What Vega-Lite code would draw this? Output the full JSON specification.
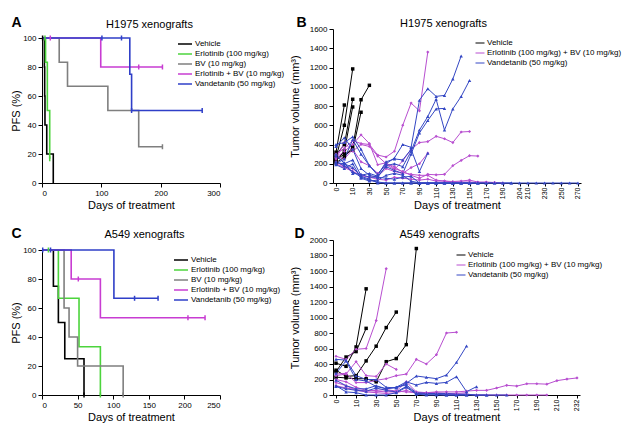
{
"$schema":"https://vega.github.io/schema/vega-lite/v6.json",
"padding":{"left":10,"top":15,"right":0,"bottom":0},
"config":{"font":"Liberation Sans","view":{"stroke":null},
 "axis":{"domainColor":"black","tickColor":"black","labelColor":"black","titleColor":"black","labelFontSize":8,"titleFontSize":11,"titleFontWeight":"normal","tickSize":4,"grid":false,"labelPadding":2,"titlePadding":2},
 "legend":{"labelFontSize":8,"labelColor":"black"}},
"datasets":{
"kmA":[
{"g":"Vehicle","d":0,"p":100},{"g":"Vehicle","d":4,"p":80},{"g":"Vehicle","d":4.5,"p":60},{"g":"Vehicle","d":5,"p":40},{"g":"Vehicle","d":8,"p":20},{"g":"Vehicle","d":19,"p":0},
{"g":"Erlotinib (100 mg/kg)","d":0,"p":100},{"g":"Erlotinib (100 mg/kg)","d":6,"p":83.3},{"g":"Erlotinib (100 mg/kg)","d":9,"p":50},{"g":"Erlotinib (100 mg/kg)","d":13,"p":16.7},
{"g":"BV (10 mg/kg)","d":0,"p":100},{"g":"BV (10 mg/kg)","d":29,"p":83.3},{"g":"BV (10 mg/kg)","d":43,"p":66.7},{"g":"BV (10 mg/kg)","d":111,"p":50},{"g":"BV (10 mg/kg)","d":163,"p":25},{"g":"BV (10 mg/kg)","d":203,"p":25},
{"g":"Erlotinib + BV (10 mg/kg)","d":0,"p":100},{"g":"Erlotinib + BV (10 mg/kg)","d":99,"p":80},{"g":"Erlotinib + BV (10 mg/kg)","d":203,"p":80},
{"g":"Vandetanib (50 mg/kg)","d":0,"p":100},{"g":"Vandetanib (50 mg/kg)","d":148,"p":75},{"g":"Vandetanib (50 mg/kg)","d":151,"p":50},{"g":"Vandetanib (50 mg/kg)","d":270,"p":50}],
"cenA":[
{"g":"Vehicle","d":1,"p":100},{"g":"Erlotinib (100 mg/kg)","d":5,"p":100},{"g":"Erlotinib (100 mg/kg)","d":13,"p":16.7},{"g":"BV (10 mg/kg)","d":203,"p":25},
{"g":"Erlotinib + BV (10 mg/kg)","d":14,"p":100},{"g":"Erlotinib + BV (10 mg/kg)","d":163,"p":80},{"g":"Erlotinib + BV (10 mg/kg)","d":203,"p":80},
{"g":"Vandetanib (50 mg/kg)","d":101,"p":100},{"g":"Vandetanib (50 mg/kg)","d":134,"p":100},{"g":"Vandetanib (50 mg/kg)","d":151,"p":50},{"g":"Vandetanib (50 mg/kg)","d":270,"p":50}],
"kmC":[
{"g":"Vehicle","d":0,"p":100},{"g":"Vehicle","d":16,"p":75},{"g":"Vehicle","d":23,"p":50},{"g":"Vehicle","d":32,"p":25},{"g":"Vehicle","d":59,"p":0},
{"g":"Erlotinib (100 mg/kg)","d":0,"p":100},{"g":"Erlotinib (100 mg/kg)","d":23,"p":66.7},{"g":"Erlotinib (100 mg/kg)","d":52,"p":33.3},{"g":"Erlotinib (100 mg/kg)","d":82,"p":0},
{"g":"BV (10 mg/kg)","d":0,"p":100},{"g":"BV (10 mg/kg)","d":31,"p":60},{"g":"BV (10 mg/kg)","d":38,"p":40},{"g":"BV (10 mg/kg)","d":50,"p":20},{"g":"BV (10 mg/kg)","d":114,"p":0},
{"g":"Erlotinib + BV (10 mg/kg)","d":0,"p":100},{"g":"Erlotinib + BV (10 mg/kg)","d":41,"p":80},{"g":"Erlotinib + BV (10 mg/kg)","d":82,"p":53.3},{"g":"Erlotinib + BV (10 mg/kg)","d":229,"p":53.3},
{"g":"Vandetanib (50 mg/kg)","d":0,"p":100},{"g":"Vandetanib (50 mg/kg)","d":101,"p":66.7},{"g":"Vandetanib (50 mg/kg)","d":163,"p":66.7}],
"cenC":[
{"g":"Vehicle","d":59,"p":0},{"g":"Erlotinib (100 mg/kg)","d":9,"p":100},{"g":"Erlotinib (100 mg/kg)","d":82,"p":0},{"g":"BV (10 mg/kg)","d":114,"p":0},
{"g":"Erlotinib + BV (10 mg/kg)","d":51,"p":80},{"g":"Erlotinib + BV (10 mg/kg)","d":205,"p":53.3},{"g":"Erlotinib + BV (10 mg/kg)","d":229,"p":53.3},
{"g":"Vandetanib (50 mg/kg)","d":1,"p":100},{"g":"Vandetanib (50 mg/kg)","d":12,"p":100},{"g":"Vandetanib (50 mg/kg)","d":130,"p":66.7},{"g":"Vandetanib (50 mg/kg)","d":163,"p":66.7}],
"volB":[
{"g":"V","m":"v1","d":0,"v":320},{"g":"V","m":"v1","d":5,"v":810},
{"g":"V","m":"v2","d":0,"v":260},{"g":"V","m":"v2","d":5,"v":600},{"g":"V","m":"v2","d":10,"v":1185},
{"g":"V","m":"v3","d":0,"v":290},{"g":"V","m":"v3","d":5,"v":400},{"g":"V","m":"v3","d":10,"v":870},
{"g":"V","m":"v4","d":0,"v":230},{"g":"V","m":"v4","d":5,"v":330},{"g":"V","m":"v4","d":10,"v":790},
{"g":"V","m":"v5","d":0,"v":210},{"g":"V","m":"v5","d":5,"v":270},{"g":"V","m":"v5","d":10,"v":370},{"g":"V","m":"v5","d":20,"v":865},{"g":"V","m":"v5","d":30,"v":1015},
{"g":"V","m":"v6","d":0,"v":240},{"g":"V","m":"v6","d":5,"v":300},{"g":"V","m":"v6","d":10,"v":340},{"g":"V","m":"v6","d":20,"v":735},
{"g":"E","m":"e1","d":0,"v":300},{"g":"E","m":"e1","d":5,"v":360},{"g":"E","m":"e1","d":10,"v":440},{"g":"E","m":"e1","d":20,"v":410},{"g":"E","m":"e1","d":30,"v":400},{"g":"E","m":"e1","d":40,"v":290},{"g":"E","m":"e1","d":50,"v":270},{"g":"E","m":"e1","d":60,"v":330},{"g":"E","m":"e1","d":70,"v":600},{"g":"E","m":"e1","d":80,"v":830},{"g":"E","m":"e1","d":90,"v":750},{"g":"E","m":"e1","d":100,"v":1360},
{"g":"E","m":"e2","d":0,"v":260},{"g":"E","m":"e2","d":5,"v":330},{"g":"E","m":"e2","d":10,"v":400},{"g":"E","m":"e2","d":20,"v":500},{"g":"E","m":"e2","d":30,"v":410},{"g":"E","m":"e2","d":40,"v":190},{"g":"E","m":"e2","d":50,"v":210},{"g":"E","m":"e2","d":60,"v":150},{"g":"E","m":"e2","d":70,"v":120},{"g":"E","m":"e2","d":80,"v":80},{"g":"E","m":"e2","d":90,"v":50},{"g":"E","m":"e2","d":100,"v":90},{"g":"E","m":"e2","d":110,"v":85},{"g":"E","m":"e2","d":120,"v":90},{"g":"E","m":"e2","d":130,"v":180},{"g":"E","m":"e2","d":140,"v":235},{"g":"E","m":"e2","d":150,"v":284},{"g":"E","m":"e2","d":160,"v":280},
{"g":"E","m":"e3","d":0,"v":280},{"g":"E","m":"e3","d":5,"v":250},{"g":"E","m":"e3","d":10,"v":350},{"g":"E","m":"e3","d":20,"v":220},{"g":"E","m":"e3","d":30,"v":180},{"g":"E","m":"e3","d":40,"v":100},{"g":"E","m":"e3","d":50,"v":190},{"g":"E","m":"e3","d":60,"v":140},{"g":"E","m":"e3","d":70,"v":230},{"g":"E","m":"e3","d":80,"v":350},{"g":"E","m":"e3","d":90,"v":420},{"g":"E","m":"e3","d":100,"v":430},{"g":"E","m":"e3","d":110,"v":485},{"g":"E","m":"e3","d":120,"v":460},{"g":"E","m":"e3","d":130,"v":420},{"g":"E","m":"e3","d":140,"v":530},{"g":"E","m":"e3","d":150,"v":535},
{"g":"E","m":"e4","d":0,"v":220},{"g":"E","m":"e4","d":5,"v":170},{"g":"E","m":"e4","d":10,"v":150},{"g":"E","m":"e4","d":20,"v":80},{"g":"E","m":"e4","d":30,"v":60},{"g":"E","m":"e4","d":40,"v":70},{"g":"E","m":"e4","d":50,"v":150},{"g":"E","m":"e4","d":60,"v":120},{"g":"E","m":"e4","d":70,"v":100},{"g":"E","m":"e4","d":80,"v":160},{"g":"E","m":"e4","d":90,"v":200},{"g":"E","m":"e4","d":100,"v":310},
{"g":"E","m":"e5","d":0,"v":200},{"g":"E","m":"e5","d":5,"v":160},{"g":"E","m":"e5","d":10,"v":120},{"g":"E","m":"e5","d":20,"v":80},{"g":"E","m":"e5","d":30,"v":60},{"g":"E","m":"e5","d":40,"v":40},{"g":"E","m":"e5","d":50,"v":30},{"g":"E","m":"e5","d":60,"v":60},{"g":"E","m":"e5","d":70,"v":50},{"g":"E","m":"e5","d":80,"v":40},{"g":"E","m":"e5","d":90,"v":30},{"g":"E","m":"e5","d":100,"v":40},{"g":"E","m":"e5","d":110,"v":20},{"g":"E","m":"e5","d":120,"v":20},{"g":"E","m":"e5","d":130,"v":15},{"g":"E","m":"e5","d":140,"v":20},{"g":"E","m":"e5","d":150,"v":30},{"g":"E","m":"e5","d":160,"v":10},{"g":"E","m":"e5","d":170,"v":10},{"g":"E","m":"e5","d":180,"v":5},{"g":"E","m":"e5","d":190,"v":0},
{"g":"E","m":"e6","d":0,"v":250},{"g":"E","m":"e6","d":5,"v":420},{"g":"E","m":"e6","d":10,"v":330},{"g":"E","m":"e6","d":20,"v":400},{"g":"E","m":"e6","d":30,"v":380},{"g":"E","m":"e6","d":40,"v":280},{"g":"E","m":"e6","d":50,"v":200},{"g":"E","m":"e6","d":60,"v":170},{"g":"E","m":"e6","d":70,"v":110},{"g":"E","m":"e6","d":80,"v":90},{"g":"E","m":"e6","d":90,"v":80},{"g":"E","m":"e6","d":100,"v":80},{"g":"E","m":"e6","d":110,"v":30},{"g":"E","m":"e6","d":120,"v":20},{"g":"E","m":"e6","d":130,"v":10},{"g":"E","m":"e6","d":140,"v":10},{"g":"E","m":"e6","d":150,"v":10},{"g":"E","m":"e6","d":160,"v":5},{"g":"E","m":"e6","d":170,"v":5},{"g":"E","m":"e6","d":180,"v":5},
{"g":"Z","m":"z1","d":0,"v":200},{"g":"Z","m":"z1","d":5,"v":250},{"g":"Z","m":"z1","d":10,"v":450},{"g":"Z","m":"z1","d":20,"v":300},{"g":"Z","m":"z1","d":30,"v":180},{"g":"Z","m":"z1","d":40,"v":90},{"g":"Z","m":"z1","d":50,"v":200},{"g":"Z","m":"z1","d":60,"v":260},{"g":"Z","m":"z1","d":70,"v":400},{"g":"Z","m":"z1","d":80,"v":370},{"g":"Z","m":"z1","d":90,"v":860},{"g":"Z","m":"z1","d":100,"v":980},{"g":"Z","m":"z1","d":110,"v":900},{"g":"Z","m":"z1","d":120,"v":910},{"g":"Z","m":"z1","d":130,"v":1080},{"g":"Z","m":"z1","d":140,"v":1320},
{"g":"Z","m":"z2","d":0,"v":380},{"g":"Z","m":"z2","d":5,"v":470},{"g":"Z","m":"z2","d":10,"v":350},{"g":"Z","m":"z2","d":20,"v":150},{"g":"Z","m":"z2","d":30,"v":80},{"g":"Z","m":"z2","d":40,"v":60},{"g":"Z","m":"z2","d":50,"v":180},{"g":"Z","m":"z2","d":60,"v":200},{"g":"Z","m":"z2","d":70,"v":170},{"g":"Z","m":"z2","d":80,"v":330},{"g":"Z","m":"z2","d":90,"v":550},{"g":"Z","m":"z2","d":100,"v":690},{"g":"Z","m":"z2","d":110,"v":870},{"g":"Z","m":"z2","d":120,"v":550},{"g":"Z","m":"z2","d":130,"v":770},{"g":"Z","m":"z2","d":140,"v":900},{"g":"Z","m":"z2","d":150,"v":1066},
{"g":"Z","m":"z3","d":0,"v":210},{"g":"Z","m":"z3","d":5,"v":200},{"g":"Z","m":"z3","d":10,"v":240},{"g":"Z","m":"z3","d":20,"v":80},{"g":"Z","m":"z3","d":30,"v":100},{"g":"Z","m":"z3","d":40,"v":70},{"g":"Z","m":"z3","d":50,"v":170},{"g":"Z","m":"z3","d":60,"v":130},{"g":"Z","m":"z3","d":70,"v":100},{"g":"Z","m":"z3","d":80,"v":300},{"g":"Z","m":"z3","d":90,"v":520},{"g":"Z","m":"z3","d":100,"v":650},{"g":"Z","m":"z3","d":110,"v":770},{"g":"Z","m":"z3","d":120,"v":775},
{"g":"Z","m":"z4","d":0,"v":400},{"g":"Z","m":"z4","d":5,"v":420},{"g":"Z","m":"z4","d":10,"v":480},{"g":"Z","m":"z4","d":20,"v":350},{"g":"Z","m":"z4","d":30,"v":180},{"g":"Z","m":"z4","d":40,"v":80},{"g":"Z","m":"z4","d":50,"v":220},{"g":"Z","m":"z4","d":60,"v":250},{"g":"Z","m":"z4","d":70,"v":240},{"g":"Z","m":"z4","d":80,"v":350},{"g":"Z","m":"z4","d":90,"v":120},{"g":"Z","m":"z4","d":100,"v":310},
{"g":"Z","m":"z5","d":0,"v":220},{"g":"Z","m":"z5","d":5,"v":180},{"g":"Z","m":"z5","d":10,"v":120},{"g":"Z","m":"z5","d":20,"v":60},{"g":"Z","m":"z5","d":30,"v":30},{"g":"Z","m":"z5","d":40,"v":10},{"g":"Z","m":"z5","d":50,"v":0},{"g":"Z","m":"z5","d":60,"v":0},{"g":"Z","m":"z5","d":70,"v":0},{"g":"Z","m":"z5","d":80,"v":0},{"g":"Z","m":"z5","d":90,"v":0},{"g":"Z","m":"z5","d":100,"v":0},{"g":"Z","m":"z5","d":110,"v":0},{"g":"Z","m":"z5","d":120,"v":0},{"g":"Z","m":"z5","d":130,"v":0},{"g":"Z","m":"z5","d":140,"v":0},{"g":"Z","m":"z5","d":150,"v":0},{"g":"Z","m":"z5","d":160,"v":0},{"g":"Z","m":"z5","d":170,"v":0},{"g":"Z","m":"z5","d":180,"v":0},{"g":"Z","m":"z5","d":190,"v":0},{"g":"Z","m":"z5","d":200,"v":0},{"g":"Z","m":"z5","d":204,"v":0},{"g":"Z","m":"z5","d":210,"v":0},{"g":"Z","m":"z5","d":220,"v":0},{"g":"Z","m":"z5","d":230,"v":0},{"g":"Z","m":"z5","d":240,"v":0},{"g":"Z","m":"z5","d":250,"v":0},{"g":"Z","m":"z5","d":260,"v":0},{"g":"Z","m":"z5","d":270,"v":0},
{"g":"Z","m":"z6","d":0,"v":280},{"g":"Z","m":"z6","d":5,"v":210},{"g":"Z","m":"z6","d":10,"v":100},{"g":"Z","m":"z6","d":20,"v":90},{"g":"Z","m":"z6","d":30,"v":60},{"g":"Z","m":"z6","d":40,"v":60},{"g":"Z","m":"z6","d":50,"v":50},{"g":"Z","m":"z6","d":60,"v":40},{"g":"Z","m":"z6","d":70,"v":60},{"g":"Z","m":"z6","d":80,"v":70},{"g":"Z","m":"z6","d":90,"v":0},{"g":"Z","m":"z6","d":100,"v":0},{"g":"Z","m":"z6","d":110,"v":0},{"g":"Z","m":"z6","d":120,"v":0},{"g":"Z","m":"z6","d":130,"v":0},{"g":"Z","m":"z6","d":140,"v":0},{"g":"Z","m":"z6","d":150,"v":0},{"g":"Z","m":"z6","d":160,"v":0},
{"g":"Z","m":"z7","d":0,"v":300},{"g":"Z","m":"z7","d":5,"v":200},{"g":"Z","m":"z7","d":10,"v":160},{"g":"Z","m":"z7","d":20,"v":70},{"g":"Z","m":"z7","d":30,"v":40},{"g":"Z","m":"z7","d":40,"v":0},{"g":"Z","m":"z7","d":50,"v":0},{"g":"Z","m":"z7","d":60,"v":0},{"g":"Z","m":"z7","d":70,"v":0},{"g":"Z","m":"z7","d":80,"v":0},{"g":"Z","m":"z7","d":90,"v":0},{"g":"Z","m":"z7","d":100,"v":0},{"g":"Z","m":"z7","d":110,"v":0},{"g":"Z","m":"z7","d":120,"v":0},{"g":"Z","m":"z7","d":130,"v":0},{"g":"Z","m":"z7","d":140,"v":0},{"g":"Z","m":"z7","d":150,"v":0},{"g":"Z","m":"z7","d":160,"v":0},{"g":"Z","m":"z7","d":170,"v":0},{"g":"Z","m":"z7","d":180,"v":0},{"g":"Z","m":"z7","d":190,"v":0},{"g":"Z","m":"z7","d":200,"v":0},
{"g":"Z","m":"z8","d":0,"v":190},{"g":"Z","m":"z8","d":5,"v":150},{"g":"Z","m":"z8","d":10,"v":200},{"g":"Z","m":"z8","d":20,"v":50},{"g":"Z","m":"z8","d":30,"v":20},{"g":"Z","m":"z8","d":40,"v":30},{"g":"Z","m":"z8","d":50,"v":80},{"g":"Z","m":"z8","d":60,"v":100},{"g":"Z","m":"z8","d":70,"v":80},{"g":"Z","m":"z8","d":80,"v":20},{"g":"Z","m":"z8","d":90,"v":0},{"g":"Z","m":"z8","d":100,"v":0},{"g":"Z","m":"z8","d":110,"v":0},{"g":"Z","m":"z8","d":120,"v":0},{"g":"Z","m":"z8","d":130,"v":0},{"g":"Z","m":"z8","d":140,"v":0},{"g":"Z","m":"z8","d":150,"v":0}],
"volD":[
{"g":"V","m":"v1","d":0,"v":410},{"g":"V","m":"v1","d":5,"v":370},{"g":"V","m":"v1","d":10,"v":620},{"g":"V","m":"v1","d":20,"v":1370},
{"g":"V","m":"v2","d":0,"v":300},{"g":"V","m":"v2","d":5,"v":490},{"g":"V","m":"v2","d":10,"v":560},{"g":"V","m":"v2","d":20,"v":860},
{"g":"V","m":"v3","d":0,"v":320},{"g":"V","m":"v3","d":5,"v":240},{"g":"V","m":"v3","d":10,"v":250},{"g":"V","m":"v3","d":20,"v":440},{"g":"V","m":"v3","d":30,"v":630},{"g":"V","m":"v3","d":40,"v":870},{"g":"V","m":"v3","d":50,"v":1070},
{"g":"V","m":"v4","d":0,"v":230},{"g":"V","m":"v4","d":5,"v":220},{"g":"V","m":"v4","d":10,"v":210},{"g":"V","m":"v4","d":20,"v":210},{"g":"V","m":"v4","d":30,"v":170},{"g":"V","m":"v4","d":40,"v":430},{"g":"V","m":"v4","d":50,"v":470},{"g":"V","m":"v4","d":60,"v":650},{"g":"V","m":"v4","d":70,"v":1890},
{"g":"E","m":"e1","d":0,"v":500},{"g":"E","m":"e1","d":5,"v":460},{"g":"E","m":"e1","d":10,"v":590},{"g":"E","m":"e1","d":20,"v":600},{"g":"E","m":"e1","d":30,"v":960},{"g":"E","m":"e1","d":40,"v":1630},
{"g":"E","m":"e2","d":0,"v":250},{"g":"E","m":"e2","d":5,"v":270},{"g":"E","m":"e2","d":10,"v":430},{"g":"E","m":"e2","d":20,"v":250},{"g":"E","m":"e2","d":30,"v":240},{"g":"E","m":"e2","d":40,"v":400},{"g":"E","m":"e2","d":50,"v":330},
{"g":"E","m":"e3","d":0,"v":270},{"g":"E","m":"e3","d":5,"v":280},{"g":"E","m":"e3","d":10,"v":160},{"g":"E","m":"e3","d":20,"v":160},{"g":"E","m":"e3","d":30,"v":190},{"g":"E","m":"e3","d":40,"v":210},{"g":"E","m":"e3","d":50,"v":250},{"g":"E","m":"e3","d":60,"v":270},{"g":"E","m":"e3","d":70,"v":460},{"g":"E","m":"e3","d":80,"v":400},{"g":"E","m":"e3","d":90,"v":520},{"g":"E","m":"e3","d":100,"v":800},{"g":"E","m":"e3","d":110,"v":810},
{"g":"E","m":"e4","d":0,"v":200},{"g":"E","m":"e4","d":5,"v":170},{"g":"E","m":"e4","d":10,"v":100},{"g":"E","m":"e4","d":20,"v":60},{"g":"E","m":"e4","d":30,"v":50},{"g":"E","m":"e4","d":40,"v":40},{"g":"E","m":"e4","d":50,"v":50},{"g":"E","m":"e4","d":60,"v":40},{"g":"E","m":"e4","d":70,"v":30},{"g":"E","m":"e4","d":80,"v":30},{"g":"E","m":"e4","d":90,"v":40},{"g":"E","m":"e4","d":100,"v":40},{"g":"E","m":"e4","d":110,"v":40},{"g":"E","m":"e4","d":120,"v":50},{"g":"E","m":"e4","d":130,"v":60},{"g":"E","m":"e4","d":140,"v":60},{"g":"E","m":"e4","d":150,"v":90},{"g":"E","m":"e4","d":160,"v":125},{"g":"E","m":"e4","d":170,"v":115},{"g":"E","m":"e4","d":180,"v":145},{"g":"E","m":"e4","d":190,"v":145},{"g":"E","m":"e4","d":200,"v":140},{"g":"E","m":"e4","d":210,"v":185},{"g":"E","m":"e4","d":220,"v":205},{"g":"E","m":"e4","d":232,"v":220},
{"g":"E","m":"e5","d":0,"v":160},{"g":"E","m":"e5","d":5,"v":120},{"g":"E","m":"e5","d":10,"v":60},{"g":"E","m":"e5","d":20,"v":40},{"g":"E","m":"e5","d":30,"v":30},{"g":"E","m":"e5","d":40,"v":20},{"g":"E","m":"e5","d":50,"v":30},{"g":"E","m":"e5","d":60,"v":60},{"g":"E","m":"e5","d":70,"v":20},{"g":"E","m":"e5","d":80,"v":20},{"g":"E","m":"e5","d":90,"v":20},{"g":"E","m":"e5","d":100,"v":10},{"g":"E","m":"e5","d":110,"v":10},{"g":"E","m":"e5","d":120,"v":10},{"g":"E","m":"e5","d":130,"v":0},{"g":"E","m":"e5","d":140,"v":0},{"g":"E","m":"e5","d":150,"v":0},{"g":"E","m":"e5","d":160,"v":0},{"g":"E","m":"e5","d":170,"v":0},{"g":"E","m":"e5","d":180,"v":0},{"g":"E","m":"e5","d":190,"v":0},{"g":"E","m":"e5","d":200,"v":0},
{"g":"E","m":"e6","d":0,"v":120},{"g":"E","m":"e6","d":5,"v":90},{"g":"E","m":"e6","d":10,"v":70},{"g":"E","m":"e6","d":20,"v":50},{"g":"E","m":"e6","d":30,"v":60},{"g":"E","m":"e6","d":40,"v":70},{"g":"E","m":"e6","d":50,"v":50},{"g":"E","m":"e6","d":60,"v":170},{"g":"E","m":"e6","d":70,"v":40},{"g":"E","m":"e6","d":80,"v":30},{"g":"E","m":"e6","d":90,"v":30},{"g":"E","m":"e6","d":100,"v":20},{"g":"E","m":"e6","d":110,"v":20},{"g":"E","m":"e6","d":120,"v":30},
{"g":"Z","m":"z1","d":0,"v":460},{"g":"Z","m":"z1","d":5,"v":450},{"g":"Z","m":"z1","d":10,"v":250},{"g":"Z","m":"z1","d":20,"v":200},{"g":"Z","m":"z1","d":30,"v":200},{"g":"Z","m":"z1","d":40,"v":100},{"g":"Z","m":"z1","d":50,"v":90},{"g":"Z","m":"z1","d":60,"v":150},{"g":"Z","m":"z1","d":70,"v":245},{"g":"Z","m":"z1","d":80,"v":228},{"g":"Z","m":"z1","d":90,"v":211},{"g":"Z","m":"z1","d":100,"v":258},{"g":"Z","m":"z1","d":110,"v":421},{"g":"Z","m":"z1","d":120,"v":632},
{"g":"Z","m":"z2","d":0,"v":280},{"g":"Z","m":"z2","d":5,"v":440},{"g":"Z","m":"z2","d":10,"v":200},{"g":"Z","m":"z2","d":20,"v":180},{"g":"Z","m":"z2","d":30,"v":110},{"g":"Z","m":"z2","d":40,"v":80},{"g":"Z","m":"z2","d":50,"v":100},{"g":"Z","m":"z2","d":60,"v":170},{"g":"Z","m":"z2","d":70,"v":129},{"g":"Z","m":"z2","d":80,"v":163},{"g":"Z","m":"z2","d":90,"v":150},{"g":"Z","m":"z2","d":100,"v":163},{"g":"Z","m":"z2","d":110,"v":237},{"g":"Z","m":"z2","d":120,"v":43},{"g":"Z","m":"z2","d":130,"v":108},
{"g":"Z","m":"z3","d":0,"v":190},{"g":"Z","m":"z3","d":5,"v":120},{"g":"Z","m":"z3","d":10,"v":80},{"g":"Z","m":"z3","d":20,"v":80},{"g":"Z","m":"z3","d":30,"v":120},{"g":"Z","m":"z3","d":40,"v":80},{"g":"Z","m":"z3","d":50,"v":100},{"g":"Z","m":"z3","d":60,"v":130},{"g":"Z","m":"z3","d":70,"v":30},{"g":"Z","m":"z3","d":80,"v":20},{"g":"Z","m":"z3","d":90,"v":20},{"g":"Z","m":"z3","d":100,"v":20},{"g":"Z","m":"z3","d":110,"v":10},{"g":"Z","m":"z3","d":120,"v":10},{"g":"Z","m":"z3","d":130,"v":0},{"g":"Z","m":"z3","d":140,"v":0},
{"g":"Z","m":"z4","d":0,"v":120},{"g":"Z","m":"z4","d":5,"v":40},{"g":"Z","m":"z4","d":10,"v":30},{"g":"Z","m":"z4","d":20,"v":0},{"g":"Z","m":"z4","d":30,"v":0},{"g":"Z","m":"z4","d":40,"v":0},{"g":"Z","m":"z4","d":50,"v":30},{"g":"Z","m":"z4","d":60,"v":100},{"g":"Z","m":"z4","d":70,"v":10},{"g":"Z","m":"z4","d":80,"v":0},{"g":"Z","m":"z4","d":90,"v":0},{"g":"Z","m":"z4","d":100,"v":0},{"g":"Z","m":"z4","d":110,"v":0},{"g":"Z","m":"z4","d":120,"v":0},{"g":"Z","m":"z4","d":130,"v":0},{"g":"Z","m":"z4","d":140,"v":0},{"g":"Z","m":"z4","d":150,"v":0},{"g":"Z","m":"z4","d":160,"v":0},
{"g":"Z","m":"z5","d":0,"v":110},{"g":"Z","m":"z5","d":5,"v":80},{"g":"Z","m":"z5","d":10,"v":60},{"g":"Z","m":"z5","d":20,"v":50},{"g":"Z","m":"z5","d":30,"v":90},{"g":"Z","m":"z5","d":40,"v":60},{"g":"Z","m":"z5","d":50,"v":40},{"g":"Z","m":"z5","d":60,"v":110},{"g":"Z","m":"z5","d":70,"v":20},{"g":"Z","m":"z5","d":80,"v":10},{"g":"Z","m":"z5","d":90,"v":10},{"g":"Z","m":"z5","d":100,"v":0},{"g":"Z","m":"z5","d":110,"v":0},{"g":"Z","m":"z5","d":120,"v":0}]
},
"columns":2,
"align":"none",
"spacing":{"row":15,"column":4},
"resolve":{"scale":{"color":"independent","shape":"independent","x":"independent","y":"independent"},"legend":{"color":"independent"}},
"concat":[
{"width":178,"height":154,
 "layer":[
  {"data":{"name":"kmA"},"mark":{"type":"line","interpolate":"step-after","strokeWidth":1.6},
   "encoding":{
    "x":{"field":"d","type":"quantitative","scale":{"domain":[0,300],"nice":false},"axis":{"values":[0,100,200,300],"title":"Days of treatment"}},
    "y":{"field":"p","type":"quantitative","scale":{"domain":[0,100],"range":[154,9]},"axis":{"values":[0,20,40,60,80,100],"title":"PFS (%)","titlePadding":1}},
    "color":{"field":"g","type":"nominal","scale":{"domain":["Vehicle","Erlotinib (100 mg/kg)","BV (10 mg/kg)","Erlotinib + BV (10 mg/kg)","Vandetanib (50 mg/kg)"],"range":["#000000","#4cd43c","#7f7f7f","#c83cd2","#2f3fc8"]},
     "legend":{"title":null,"orient":"none","legendX":135,"legendY":10,"symbolType":"stroke","symbolSize":196,"symbolStrokeWidth":1.6,"rowPadding":0,"clipHeight":10,"labelOffset":2}}}},
  {"data":{"name":"cenA"},"mark":{"type":"point","shape":"M0,-1L0,1","size":25,"strokeWidth":1.5,"filled":false,"opacity":1},
   "encoding":{
    "x":{"field":"d","type":"quantitative","axis":{"orient":"top","title":"H1975 xenografts","domain":false,"ticks":false,"labels":false,"titleX":107,"titleY":-2,"titleAlign":"center","titleBaseline":"alphabetic"}},
    "y":{"field":"p","type":"quantitative","axis":{"orient":"right","title":"A","domain":false,"ticks":false,"labels":false,"titleAngle":0,"titleX":-209,"titleY":-3,"titleAlign":"left","titleBaseline":"alphabetic","titleFontWeight":"bold","titleFontSize":14}},
    "color":{"field":"g","type":"nominal"}}}],
 "resolve":{"axis":{"x":"independent","y":"independent"}}},
{"width":248,"height":154,
 "data":{"name":"volB"},
 "encoding":{
  "x":{"field":"d","type":"ordinal","scale":{"type":"point","domain":[0,5,10,20,30,40,50,60,70,80,90,100,110,120,130,140,150,160,170,180,190,200,204,210,220,230,240,250,260,270],"padding":0.36},"axis":null},
  "y":{"field":"v","type":"quantitative","scale":{"domain":[0,1600]},"axis":null},
  "color":{"field":"g","type":"nominal","scale":{"domain":["V","E","Z"],"range":["#000000","#b84fd0","#3447c4"]}}},
 "layer":[
  {"mark":{"type":"line","strokeWidth":1},
   "encoding":{
    "x":{"field":"d","type":"ordinal","axis":{"values":[0,10,30,50,70,90,110,130,150,170,190,204,210,230,250,270],"labelAngle":-90,"labelFontSize":7,"tickSize":3,"labelPadding":1,"title":"Days of treatment","titlePadding":1}},
    "y":{"field":"v","type":"quantitative","axis":{"values":[0,200,400,600,800,1000,1200,1400,1600],"format":"d","title":"Tumor volume (mm³)","titlePadding":9}},
    "detail":{"field":"m"},
    "color":{"field":"g","type":"nominal",
     "legend":{"title":null,"orient":"none","legendX":142,"legendY":9,"symbolType":"stroke","symbolSize":81,"symbolStrokeWidth":1,"rowPadding":0,"clipHeight":10,"labelOffset":2,
      "labelExpr":"datum.value=='V'?'Vehicle':datum.value=='E'?'Erlotinib (100 mg/kg) + BV (10 mg/kg)':'Vandetanib (50 mg/kg)'"}}}},
  {"transform":[{"filter":"datum.g=='V'"}],"mark":{"type":"point","filled":true,"size":12,"opacity":1,"shape":"square"},
   "encoding":{
    "x":{"field":"d","type":"ordinal","axis":{"orient":"top","title":"H1975 xenografts","domain":false,"ticks":false,"labels":false,"titleX":110,"titleY":-3,"titleAlign":"center","titleBaseline":"alphabetic"}},
    "y":{"field":"v","type":"quantitative","axis":{"orient":"right","title":"B","domain":false,"ticks":false,"labels":false,"titleAngle":0,"titleX":-285,"titleY":-3,"titleAlign":"left","titleBaseline":"alphabetic","titleFontWeight":"bold","titleFontSize":14}}}},
  {"transform":[{"filter":"datum.g=='E'"}],"mark":{"type":"point","filled":true,"size":10,"opacity":1,"shape":"diamond"}},
  {"transform":[{"filter":"datum.g=='Z'"}],"mark":{"type":"point","filled":true,"size":12,"opacity":1,"shape":"triangle-up"}}],
 "resolve":{"axis":{"x":"independent","y":"independent"}}},
{"width":178,"height":145,
 "layer":[
  {"data":{"name":"kmC"},"mark":{"type":"line","interpolate":"step-after","strokeWidth":1.6},
   "encoding":{
    "x":{"field":"d","type":"quantitative","scale":{"domain":[0,250],"nice":false},"axis":{"values":[0,50,100,150,200,250],"title":"Days of treatment"}},
    "y":{"field":"p","type":"quantitative","scale":{"domain":[0,100]},"axis":{"values":[0,20,40,60,80,100],"title":"PFS (%)","titlePadding":1}},
    "color":{"field":"g","type":"nominal","scale":{"domain":["Vehicle","Erlotinib (100 mg/kg)","BV (10 mg/kg)","Erlotinib + BV (10 mg/kg)","Vandetanib (50 mg/kg)"],"range":["#000000","#4cd43c","#7f7f7f","#c83cd2","#2f3fc8"]},
     "legend":{"title":null,"orient":"none","legendX":131,"legendY":5,"symbolType":"stroke","symbolSize":196,"symbolStrokeWidth":1.6,"rowPadding":0,"clipHeight":10,"labelOffset":2}}}},
  {"data":{"name":"cenC"},"mark":{"type":"point","shape":"M0,-1L0,1","size":25,"strokeWidth":1.5,"filled":false,"opacity":1},
   "encoding":{
    "x":{"field":"d","type":"quantitative","axis":{"orient":"top","title":"A549 xenografts","domain":false,"ticks":false,"labels":false,"titleX":102,"titleY":-13,"titleAlign":"center","titleBaseline":"alphabetic"}},
    "y":{"field":"p","type":"quantitative","axis":{"orient":"right","title":"C","domain":false,"ticks":false,"labels":false,"titleAngle":0,"titleX":-209,"titleY":-13,"titleAlign":"left","titleBaseline":"alphabetic","titleFontWeight":"bold","titleFontSize":14}},
    "color":{"field":"g","type":"nominal"}}}],
 "resolve":{"axis":{"x":"independent","y":"independent"}}},
{"width":247,"height":155,
 "data":{"name":"volD"},
 "encoding":{
  "x":{"field":"d","type":"ordinal","scale":{"type":"point","domain":[0,5,10,20,30,40,50,60,70,80,90,100,110,120,130,140,150,160,170,180,190,200,210,220,232],"padding":0.3},"axis":null},
  "y":{"field":"v","type":"quantitative","scale":{"domain":[0,2000]},"axis":null},
  "color":{"field":"g","type":"nominal","scale":{"domain":["V","E","Z"],"range":["#000000","#b84fd0","#3447c4"]}}},
 "layer":[
  {"mark":{"type":"line","strokeWidth":1},
   "encoding":{
    "x":{"field":"d","type":"ordinal","axis":{"values":[0,10,30,50,70,90,110,130,150,170,190,210,232],"labelAngle":-90,"labelFontSize":7,"tickSize":3,"labelPadding":1,"title":"Days of treatment","titlePadding":1}},
    "y":{"field":"v","type":"quantitative","axis":{"values":[0,200,400,600,800,1000,1200,1400,1600,1800,2000],"format":"d","title":"Tumor volume (mm³)","titlePadding":9}},
    "detail":{"field":"m"},
    "color":{"field":"g","type":"nominal",
     "legend":{"title":null,"orient":"none","legendX":123,"legendY":10,"symbolType":"stroke","symbolSize":81,"symbolStrokeWidth":1,"rowPadding":0,"clipHeight":10,"labelOffset":2,
      "labelExpr":"datum.value=='V'?'Vehicle':datum.value=='E'?'Erlotinib (100 mg/kg) + BV (10 mg/kg)':'Vandetanib (50 mg/kg)'"}}}},
  {"transform":[{"filter":"datum.g=='V'"}],"mark":{"type":"point","filled":true,"size":12,"opacity":1,"shape":"square"},
   "encoding":{
    "x":{"field":"d","type":"ordinal","axis":{"orient":"top","title":"A549 xenografts","domain":false,"ticks":false,"labels":false,"titleX":106,"titleY":-3,"titleAlign":"center","titleBaseline":"alphabetic"}},
    "y":{"field":"v","type":"quantitative","axis":{"orient":"right","title":"D","domain":false,"ticks":false,"labels":false,"titleAngle":0,"titleX":-286,"titleY":-3,"titleAlign":"left","titleBaseline":"alphabetic","titleFontWeight":"bold","titleFontSize":14}}}},
  {"transform":[{"filter":"datum.g=='E'"}],"mark":{"type":"point","filled":true,"size":10,"opacity":1,"shape":"diamond"}},
  {"transform":[{"filter":"datum.g=='Z'"}],"mark":{"type":"point","filled":true,"size":12,"opacity":1,"shape":"triangle-up"}}],
 "resolve":{"axis":{"x":"independent","y":"independent"}}}
]
}
